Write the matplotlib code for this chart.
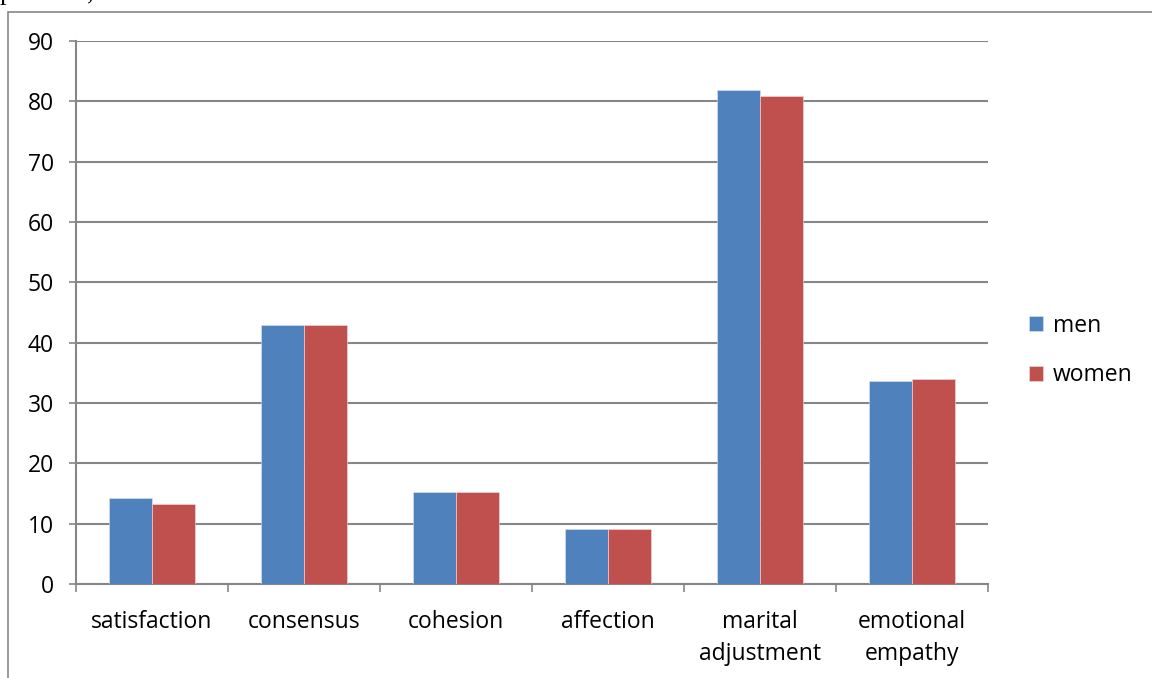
import numpy as np
import matplotlib.pyplot as plt
from matplotlib.patches import Rectangle

categories = ['satisfaction', 'consensus', 'cohesion', 'affection',
              'marital\nadjustment', 'emotional\nempathy']
men = [14.3, 43.0, 15.3, 9.2, 81.9, 33.6]
women = [13.3, 43.0, 15.3, 9.1, 80.9, 33.9]

plt.rcParams['font.family'] = ['Open Sans', 'DejaVu Sans']
grey = '#868686'
fs = 16.5

fig = plt.figure(figsize=(11.52, 6.78), dpi=100)
ax = fig.add_axes([0.066, 0.1386, 0.7916, 0.8009])

x = np.arange(len(categories))
width = 0.283
ax.bar(x - width / 2, men, width=width, color='#4F81BD', edgecolor='#dfe7f2',
       linewidth=0.4, label='men', zorder=3)
ax.bar(x + width / 2, women, width=width, color='#C0504D', edgecolor='#f2dede',
       linewidth=0.4, label='women', zorder=3)

ax.set_xlim(-0.5, len(categories) - 0.5)
ax.set_ylim(0, 90)
ax.set_yticks(np.arange(0, 91, 10))
ax.yaxis.grid(True, color=grey, linewidth=1.5, zorder=0)
ax.tick_params(axis='y', length=5, width=1.2, color=grey, labelsize=fs,
               pad=11)

# category labels centred, tick marks on the boundaries between them
ax.set_xticks(np.arange(-0.5, len(categories)), minor=False)
ax.set_xticklabels([])
ax.tick_params(axis='x', length=6, width=1.2, color=grey)
ax.set_xticks(x, minor=True)
ax.set_xticklabels(categories, minor=True, fontsize=fs, linespacing=1.45)
ax.tick_params(axis='x', which='minor', length=0, pad=18.5)

for side in ['top', 'right']:
    ax.spines[side].set_visible(False)
ax.spines['left'].set_color(grey)
ax.spines['bottom'].set_color(grey)
ax.spines['left'].set_linewidth(1.5)
ax.spines['bottom'].set_linewidth(1.5)

ax.legend(loc='center left', bbox_to_anchor=(1.022, 0.43), frameon=False,
          fontsize=fs, handlelength=0.62, handleheight=0.62,
          labelspacing=1.12, handletextpad=0.45)

# chart frame running off the page
fig.add_artist(Rectangle((8 / 1152, -0.1), 1.2, 1.1 - 12 / 678,
                         transform=fig.transFigure, fill=False,
                         edgecolor=grey, linewidth=1.2))
fig.text(0.0, 1.0, 'p ≤ 0.05,', family='Liberation Serif',
         fontsize=19, va='baseline', ha='left')

fig.savefig('out.png', dpi=100)
